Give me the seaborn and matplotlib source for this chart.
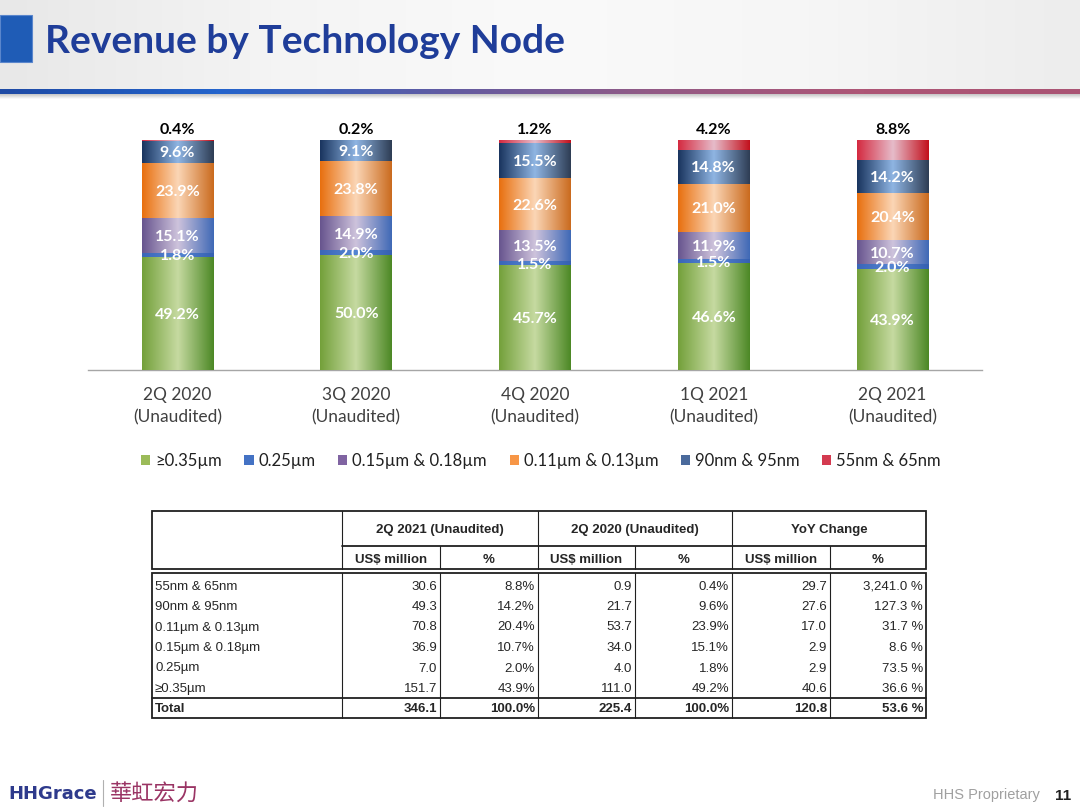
import numpy as np
import pandas as pd
import matplotlib
matplotlib.use('Agg')
import matplotlib.pyplot as plt
import seaborn as sns
from matplotlib.colors import LinearSegmentedColormap
from matplotlib.patches import Rectangle

# ---------------- data ----------------
quarters = ['2Q 2020\n(Unaudited)', '3Q 2020\n(Unaudited)', '4Q 2020\n(Unaudited)',
            '1Q 2021\n(Unaudited)', '2Q 2021\n(Unaudited)']
nodes = ['≥0.35µm', '0.25µm', '0.15µm & 0.18µm', '0.11µm & 0.13µm', '90nm & 95nm', '55nm & 65nm']
share_035 = [49.2, 50.0, 45.7, 46.6, 43.9]
share_025 = [1.8, 2.0, 1.5, 1.5, 2.0]
share_015_018 = [15.1, 14.9, 13.5, 11.9, 10.7]
share_011_013 = [23.9, 23.8, 22.6, 21.0, 20.4]
share_90_95 = [9.6, 9.1, 15.5, 14.8, 14.2]
share_55_65 = [0.4, 0.2, 1.2, 4.2, 8.8]
shares = [share_035, share_025, share_015_018, share_011_013, share_90_95, share_55_65]

tbl_nodes = ['55nm & 65nm', '90nm & 95nm', '0.11µm & 0.13µm', '0.15µm & 0.18µm', '0.25µm', '≥0.35µm']
q221_usd = [30.6, 49.3, 70.8, 36.9, 7.0, 151.7]
q221_pct = [8.8, 14.2, 20.4, 10.7, 2.0, 43.9]
q220_usd = [0.9, 21.7, 53.7, 34.0, 4.0, 111.0]
q220_pct = [0.4, 9.6, 23.9, 15.1, 1.8, 49.2]
yoy_usd = [29.7, 27.6, 17.0, 2.9, 2.9, 40.6]
yoy_pct = [3241.0, 127.3, 31.7, 8.6, 73.5, 36.6]
total_row = ['346.1', '100.0%', '225.4', '100.0%', '120.8', '53.6 %']
group_headers = ['2Q 2021 (Unaudited)', '2Q 2020 (Unaudited)', 'YoY Change']
sub_headers = ['US$ million', '%']

# long-form frame for seaborn
rows = []
for k, node in enumerate(nodes):
    for i, q in enumerate(quarters):
        bottom = sum(shares[j][i] for j in range(k))
        rows.append(dict(quarter=q, node=node, share=shares[k][i], bottom=bottom,
                         top=bottom + shares[k][i]))
df = pd.DataFrame(rows)

# ---------------- style ----------------
sns.set_style('white')
plt.rcParams['font.family'] = ['Lato', 'DejaVu Sans']

solid = ['#9BBB59', '#4472C4', '#8064A2', '#F79646', '#4A6A9C', '#D43A50']
grads = [
    ['#73A03A', '#C6DAA1', '#4C8825'],
    ['#3A66B8', '#5585D2', '#3560B0'],
    ['#67548E', '#CEC3DC', '#3F69B6'],
    ['#E86F0E', '#FBD6B6', '#CA6A1E'],
    ['#19345E', '#8FB5E3', '#2E3D54'],
    ['#D42A40', '#E6BCCA', '#C2101C'],
]

W, H = 1080, 807
fig = plt.figure(figsize=(W / 100, H / 100), dpi=100)
fig.patch.set_facecolor('white')

# background / decoration axes in pixel coordinates
bg = fig.add_axes([0, 0, 1, 1], zorder=0)
bg.set_axis_off()


def hgrad(ax, x0, x1, y0, y1, colors, zorder, clip=None, vertical=False):
    cmap = LinearSegmentedColormap.from_list('g', colors)
    g = np.linspace(0, 1, 256)
    g = g.reshape(-1, 1) if vertical else g.reshape(1, -1)
    im = ax.imshow(g, extent=[x0, x1, y1, y0], aspect='auto', cmap=cmap,
                   zorder=zorder, interpolation='bilinear', origin='upper')
    if clip is not None:
        im.set_clip_path(clip)
    return im


# header band
hgrad(bg, 0, W, 0, 89, ['#E8E8E8', '#F4F4F4', '#FAFAFA', '#F6F6F6', '#EDEDED'], 1)
hgrad(bg, 0, W, 89, 94, ['#1F4BA5', '#2464CC', '#5E5CA4', '#925A86', '#AE5676', '#AA5474'], 2)
hgrad(bg, 0, W, 94, 99, ['#C4C4C4', '#FFFFFF'], 2, vertical=True)
bg.add_patch(Rectangle((0, 15), 32, 47, facecolor='#1F5CB6', edgecolor='#5A86CC', lw=0.8, zorder=3))
bg.text(45, 53, 'Revenue by Technology Node', fontsize=28, fontweight='bold',
        color='#1F3D99', ha='left', va='baseline', zorder=4)

# ---------------- stacked bar chart ----------------
ax = fig.add_axes([88 / W, 1 - 370 / H, 894 / W, 230 / H], zorder=2)
ax.set_facecolor('none')

# cumulative bars drawn from the top series down; lower series sit above in z-order
for k in reversed(range(len(nodes))):
    sub = df[df.node == nodes[k]]
    z = 10 - k
    n_before = len(ax.patches)
    sns.barplot(data=sub, x='quarter', y='top', order=quarters, color=solid[k],
                saturation=1, width=0.4, errorbar=None, ax=ax, zorder=z,
                edgecolor='none', linewidth=0)
    for p in ax.patches[n_before:]:
        x0, y0 = p.get_x(), p.get_y()
        hgrad(ax, x0, x0 + p.get_width(), y0 + p.get_height(), y0, grads[k], z + 0.5, clip=p)

for k in range(len(nodes) - 1):
    for i in range(len(quarters)):
        b = df[(df.node == nodes[k]) & (df.quarter == quarters[i])].iloc[0]
        ax.text(i, b.bottom + b.share / 2, f'{b.share:.1f}%', ha='center', va='center_baseline',
                color='white', fontsize=11.5, fontweight='bold', zorder=30)
for i in range(len(quarters)):
    b = df[(df.node == nodes[-1]) & (df.quarter == quarters[i])].iloc[0]
    ax.annotate(f'{b.share:.1f}%', xy=(i, b.top), xytext=(0, 2.5), textcoords='offset points',
                ha='center', va='bottom', fontsize=11.5, fontweight='bold', color='black',
                zorder=30, annotation_clip=False)

ax.set_xlim(-0.5, 4.5)
ax.set_ylim(0, 100)
ax.set_xlabel('')
ax.set_ylabel('')
ax.set_yticks([])
for s in ['top', 'left', 'right']:
    ax.spines[s].set_visible(False)
ax.spines['bottom'].set_color('#A6A6A6')
ax.spines['bottom'].set_linewidth(1.0)
ax.set_xticks(np.arange(-0.5, 5, 1), minor=True)
ax.tick_params(axis='x', which='major', length=0, pad=12, labelsize=12.5, labelcolor='#404040')
ax.tick_params(axis='x', which='minor', length=5, color='#A6A6A6', width=1, direction='out')
for lbl in ax.get_xticklabels():
    lbl.set_linespacing(1.5)

# legend
handles = [Rectangle((0, 0), 1, 1, facecolor=c, edgecolor='none') for c in solid]
fig.legend(handles, nodes, loc='center', bbox_to_anchor=(541 / W, 1 - 461 / H), ncol=6,
           frameon=False, fontsize=12, handlelength=0.55, handleheight=0.55,
           handletextpad=0.3, columnspacing=1.35, labelcolor='#202020')

# ---------------- table ----------------
tf = ['Liberation Sans', 'DejaVu Sans']
cx = [152, 342, 440, 538, 635, 732, 830, 926]
h_top, h_mid, h_bot = 511, 546, 569
b_top, b_tot, b_bot = 573, 698, 718
row_c = [585, 605.5, 626, 646.5, 667, 687.5]
tot_c = 708
thick, thin = 1.3, 0.8
lc = '#202020'
va_t = 'center_baseline'

# header box
bg.add_patch(Rectangle((cx[0], h_top), cx[-1] - cx[0], h_bot - h_top, fill=False, lw=thick, ec=lc, zorder=5))
bg.plot([cx[1], cx[-1]], [h_mid, h_mid], color=lc, lw=thick, zorder=5)
for x in [cx[1], cx[3], cx[5]]:
    bg.plot([x, x], [h_top, h_bot], color=lc, lw=thin, zorder=5)
for x in [cx[2], cx[4], cx[6]]:
    bg.plot([x, x], [h_mid, h_bot], color=lc, lw=thin, zorder=5)
# body box
bg.add_patch(Rectangle((cx[0], b_top), cx[-1] - cx[0], b_bot - b_top, fill=False, lw=thick, ec=lc, zorder=5))
bg.plot([cx[0], cx[-1]], [b_tot, b_tot], color=lc, lw=thick, zorder=5)
for x in cx[1:-1]:
    bg.plot([x, x], [b_top, b_bot], color=lc, lw=thin, zorder=5)

for g, name in enumerate(group_headers):
    xc = (cx[1 + 2 * g] + cx[3 + 2 * g]) / 2
    bg.text(xc, (h_top + h_mid) / 2, name, ha='center', va=va_t, fontsize=9.5,
            fontweight='bold', family=tf, zorder=6)
    for s, sh in enumerate(sub_headers):
        xs = (cx[1 + 2 * g + s] + cx[2 + 2 * g + s]) / 2
        bg.text(xs, (h_mid + h_bot) / 2 + 1, sh, ha='center', va=va_t, fontsize=9.5,
                fontweight='bold', family=tf, zorder=6)

cols = [[f'{v:.1f}' for v in q221_usd], [f'{v:.1f}%' for v in q221_pct],
        [f'{v:.1f}' for v in q220_usd], [f'{v:.1f}%' for v in q220_pct],
        [f'{v:.1f}' for v in yoy_usd], [f'{v:,.1f} %' for v in yoy_pct]]
for r, name in enumerate(tbl_nodes):
    bg.text(cx[0] + 3, row_c[r], name, ha='left', va=va_t, fontsize=9.5, family=tf, zorder=6)
    for c in range(6):
        bg.text(cx[c + 2] - 3, row_c[r], cols[c][r], ha='right', va=va_t, fontsize=9.5,
                family=tf, zorder=6)
bg.text(cx[0] + 3, tot_c, 'Total', ha='left', va=va_t, fontsize=9.5, fontweight='bold',
        family=tf, zorder=6)
for c in range(6):
    bg.text(cx[c + 2] - 3, tot_c, total_row[c], ha='right', va=va_t, fontsize=9.5,
            fontweight='bold', family=tf, zorder=6)

# ---------------- footer ----------------
bg.text(8, 794, 'HHGrace', ha='left', va='center', fontsize=13, fontweight='bold',
        color='#2E3A8C', family=['DejaVu Sans'], zorder=6)
bg.plot([103, 103], [780, 806], color='#B0B0B0', lw=0.8, zorder=6)
bg.text(110, 793, '華虹宏力', ha='left', va='center', fontsize=16, color='#9A3464',
        family=['Noto Sans CJK TC', 'DejaVu Sans'], zorder=6)
bg.text(1040, 795, 'HHS Proprietary', ha='right', va='center', fontsize=10.5, color='#A0A0A0',
        family=tf, zorder=6)
bg.text(1063, 796, '11', ha='center', va='center', fontsize=11, fontweight='bold',
        color='#202020', family=tf, zorder=6)

bg.set_xlim(0, W)
bg.set_ylim(H, 0)

fig.savefig('out.png', dpi=100, facecolor='white')
